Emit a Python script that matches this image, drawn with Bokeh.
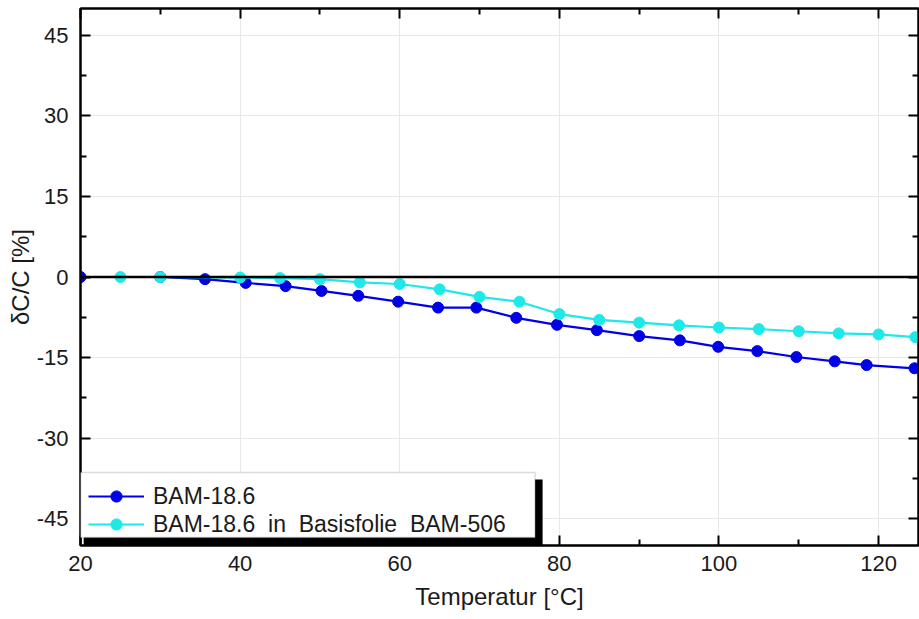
from bokeh.plotting import figure
from bokeh.models import (LinearAxis, FixedTicker, Range1d, Span, BoxAnnotation,
                          Legend, LegendItem, ColumnDataSource, CustomLabelingPolicy)
from bokeh.embed import file_html
from bokeh.resources import INLINE

# ---- data ----
blue_x = [20, 30, 35.6, 40.7, 45.7, 50.2, 54.8, 59.8, 64.8, 69.6, 74.6, 79.7,
          84.7, 90, 95.1, 99.9, 104.8, 109.7, 114.5, 118.5, 124.5]
blue_y = [0, 0, -0.4, -1.1, -1.7, -2.6, -3.5, -4.6, -5.7, -5.7, -7.6, -8.9,
          -9.9, -11.0, -11.8, -13.0, -13.8, -14.9, -15.7, -16.4, -17.0]
cyan_x = [25, 30, 40, 45, 50, 55, 60, 65, 70, 75, 80, 85, 90, 95, 100, 105,
          110, 115, 120, 124.6]
cyan_y = [0, 0, -0.1, -0.2, -0.4, -1.0, -1.3, -2.3, -3.7, -4.6, -6.9, -8.0,
          -8.5, -9.0, -9.4, -9.7, -10.1, -10.5, -10.7, -11.2]
series_names = ["BAM-18.6", "BAM-18.6  in  Basisfolie  BAM-506"]
x_ticks = [20, 40, 60, 80, 100, 120]
x_minor = [30, 50, 70, 90, 110]
y_ticks = [-45, -30, -15, 0, 15, 30, 45]
y_minor = [-37.5, -22.5, -7.5, 7.5, 22.5, 37.5]

FONT = "Liberation Sans"
TXT = "#1a1a1a"
BLUE = "#0000e6"
CYAN = "#1ee8e8"

p = figure(width=919, height=619, output_backend="svg", toolbar_location=None,
           x_range=Range1d(20, 125), y_range=Range1d(-50, 50),
           min_border_left=80, min_border_right=1, min_border_top=8,
           min_border_bottom=74)
p.outline_line_color = "black"
p.outline_line_width = 2
p.background_fill_color = "white"
p.border_fill_color = "white"

def style_axis(ax, ticks, minor, labels=True):
    ax.ticker = FixedTicker(ticks=ticks, minor_ticks=minor)
    ax.axis_line_color = "black"
    ax.axis_line_width = 2
    ax.major_tick_in = 10
    ax.major_tick_out = 0
    ax.minor_tick_in = 6
    ax.minor_tick_out = 0
    ax.major_tick_line_width = 2
    ax.minor_tick_line_width = 2
    ax.major_tick_line_color = "black"
    ax.minor_tick_line_color = "black"
    if labels:
        ax.major_label_overrides = {t: str(t) for t in ticks}
        ax.major_label_text_font = FONT
        ax.major_label_text_font_size = "22px"
        ax.major_label_text_color = TXT
        ax.axis_label_text_font = FONT
        ax.axis_label_text_font_size = "24px"
        ax.axis_label_text_font_style = "normal"
        ax.axis_label_text_color = TXT
    else:
        # tick-only mirror axis: empty labels, none drawn
        ax.major_label_overrides = {t: "" for t in ticks}
        ax.major_label_policy = CustomLabelingPolicy(code="return new Set()")
        ax.major_label_standoff = 0

style_axis(p.xaxis[0], x_ticks, x_minor)
style_axis(p.yaxis[0], y_ticks, y_minor)
p.xaxis[0].axis_label = "Temperatur [°C]"
p.xaxis[0].major_label_standoff = 10
p.xaxis[0].axis_label_standoff = 9
p.yaxis[0].axis_label = "δC/C [%]"
p.yaxis[0].major_label_standoff = 12
p.yaxis[0].axis_label_standoff = 0

top = LinearAxis()
right = LinearAxis()
style_axis(top, x_ticks, x_minor, labels=False)
style_axis(right, y_ticks, y_minor, labels=False)
p.add_layout(top, "above")
p.add_layout(right, "right")

p.xgrid.ticker = FixedTicker(ticks=x_ticks)
p.ygrid.ticker = FixedTicker(ticks=y_ticks)
p.xgrid.grid_line_color = "#e8e8e8"
p.ygrid.grid_line_color = "#e8e8e8"
p.xgrid.grid_line_width = 1
p.ygrid.grid_line_width = 1

src_b = ColumnDataSource(dict(x=blue_x, y=blue_y))
src_c = ColumnDataSource(dict(x=cyan_x, y=cyan_y))
lb = p.line("x", "y", source=src_b, line_color=BLUE, line_width=2.2)
mb = p.scatter("x", "y", source=src_b, size=11, fill_color=BLUE, line_color=BLUE)
lc = p.line("x", "y", source=src_c, line_color=CYAN, line_width=2.2)
mc = p.scatter("x", "y", source=src_c, size=11, fill_color=CYAN, line_color=CYAN)

p.add_layout(Span(location=0, dimension="width", line_color="black", line_width=2.5))

# legend shadow and box
p.add_layout(BoxAnnotation(left=20.4, right=77.9, top=-37.7, bottom=-50,
                           fill_color="black", fill_alpha=1, line_color=None))
p.add_layout(BoxAnnotation(left=20, right=76.95, top=-36.4, bottom=-48.5,
                           fill_color="white", fill_alpha=1, line_color="#8a8a8a",
                           line_width=1.5))

legend = Legend(items=[LegendItem(label=series_names[0], renderers=[lb, mb]),
                       LegendItem(label=series_names[1], renderers=[lc, mc])],
                location=(8, 7), padding=4, spacing=0, glyph_width=56,
                glyph_height=28, label_height=28, label_standoff=9,
                label_text_font=FONT, label_text_font_size="23px",
                label_text_color=TXT, border_line_color=None,
                background_fill_alpha=0, margin=0)
p.add_layout(legend)

open("out.html", "w").write(file_html(p, INLINE))
